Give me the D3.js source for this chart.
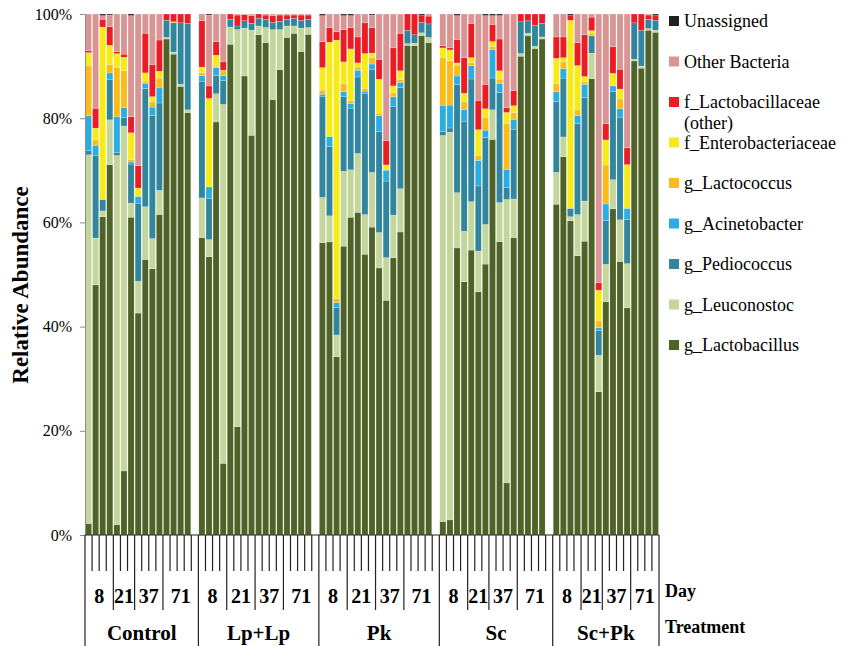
<!DOCTYPE html>
<html>
<head>
<meta charset="utf-8">
<script src="https://cdn.jsdelivr.net/npm/d3@7"></script>
<style>
  body { margin: 0; background: #fff; }
  svg { display: block; }
</style>
</head>
<body>
<script>
// categories
const treatments = ["Control", "Lp+Lp", "Pk", "Sc", "Sc+Pk"];
const days = ["8", "21", "37", "71"];
const barsPerDay = [[4, 3, 4, 4], [4, 4, 4, 4], [4, 4, 4, 4], [4, 3, 4, 4], [4, 3, 4, 4]];
const yTicks = [0, 0.2, 0.4, 0.6, 0.8, 1];

// series, bottom to top (percent)
const gLactobacillus = [
    2.2, 48.0, 61.1, 71.0, 2.0, 12.3, 61.0, 42.6, 52.9, 51.2, 61.6, 95.2, 92.3, 86.2, 81.1,
    57.1, 53.4, 79.2, 13.8, 94.2, 20.8, 88.1, 76.8, 96.0, 94.6, 83.5, 89.4, 95.5, 96.3, 92.9, 96.1,
    56.1, 56.2, 34.2, 55.5, 61.0, 62.0, 53.9, 59.1, 51.2, 45.1, 53.2, 58.1, 94.0, 93.9, 95.8, 94.5,
    2.6, 2.9, 55.1, 48.6, 54.8, 46.7, 52.0, 76.0, 56.3, 10.0, 57.1, 92.0, 95.8, 93.3, 95.2,
    63.5, 72.6, 60.3, 53.6, 56.4, 87.5, 27.5, 44.8, 62.6, 52.5, 43.6, 91.0, 89.7, 96.9, 96.5];
const gLeuconostoc = [
    70.7, 9.0, 1.1, 8.6, 70.7, 66.2, 2.7, 6.1, 10.1, 5.8, 4.6, 0.3, 0.4, 0.4, 0.5,
    7.6, 3.3, 5.4, 69.0, 3.3, 76.3, 9.2, 20.2, 1.7, 2.9, 13.4, 7.7, 2.2, 1.4, 4.5, 1.3,
    8.7, 5.0, 4.2, 14.4, 9.1, 11.3, 7.6, 10.5, 6.8, 8.2, 8.2, 8.3, 0.3, 0.5, 0.5, 1.0,
    74.0, 74.5, 10.6, 9.7, 9.3, 7.8, 7.6, 5.7, 7.5, 54.4, 7.4, 0.5, 0.5, 0.4, 0.4,
    6.1, 3.8, 0.8, 7.9, 7.7, 4.9, 7.0, 7.2, 5.6, 8.0, 8.5, 0.3, 0.4, 0.3, 0.4];
const gPediococcus = [
    0.8, 15.8, 2.2, 7.7, 0.6, 1.6, 7.5, 15.0, 22.7, 23.7, 16.8, 3.3, 5.6, 11.8, 16.6,
    22.4, 7.9, 3.5, 4.6, 1.5, 0.7, 1.4, 1.3, 1.5, 1.6, 1.4, 1.6, 1.3, 1.5, 1.5, 1.6,
    19.3, 13.3, 5.2, 14.3, 11.7, 14.7, 23.3, 19.7, 19.4, 14.7, 20.9, 19.4, 2.6, 1.6, 2.0, 2.6,
    0.8, 0.8, 20.8, 21.0, 23.6, 12.5, 16.7, 6.1, 21.1, 2.3, 13.4, 6.1, 2.4, 4.0, 2.6,
    13.6, 11.3, 1.6, 17.5, 19.9, 3.3, 4.8, 8.4, 16.9, 19.7, 8.5, 7.0, 6.9, 1.8, 1.9];
const gAcinetobacter = [
    6.7, 2.0, 0, 1.3, 6.8, 1.9, 0.4, 1.3, 1.0, 1.6, 2.9, 0, 0, 0, 0,
    1.1, 2.2, 1.5, 1.0, 0, 0, 0, 0, 0, 0, 0, 0, 0, 0, 0, 0,
    0.5, 1.9, 1.0, 1.0, 1.0, 1.3, 0.4, 1.1, 3.0, 2.1, 1.8, 1.0, 0, 0, 0, 0,
    5.0, 4.4, 1.6, 2.4, 2.6, 4.9, 1.4, 5.5, 1.8, 3.5, 1.9, 0, 0, 0, 0,
    1.9, 1.8, 0, 1.5, 2.5, 0, 0.5, 3.2, 1.1, 1.6, 2.1, 0, 0, 0, 0];
const gLactococcus = [
    9.6, 1.1, 0, 1.6, 9.4, 7.1, 0.5, 0, 0.4, 1.0, 1.9, 0, 0.2, 0, 0,
    0.6, 0, 0.3, 1.0, 0, 0, 0, 0, 0, 0, 0, 0, 0, 0, 0, 0,
    0.8, 0, 0.8, 1.5, 0.6, 0.6, 0.5, 1.3, 0.5, 0, 0.8, 0.5, 0, 0, 0, 0,
    9.2, 8.5, 2.1, 1.5, 0.5, 0.9, 2.4, 0.5, 0.8, 8.8, 1.3, 0, 0, 0, 0,
    1.5, 1.3, 0, 1.1, 0.5, 0.5, 1.3, 7.5, 0, 1.9, 0, 0, 0, 0, 0];
const fEnterobacteriaceae = [
    2.5, 2.2, 33.1, 3.7, 2.7, 2.6, 5.1, 1.6, 1.6, 1.0, 1.3, 0, 0, 0, 0,
    1.0, 17.0, 2.1, 0, 0, 0, 0, 0, 0, 0, 0, 0, 0, 0, 0, 0,
    4.3, 18.1, 49.6, 4.2, 9.9, 0.8, 6.7, 0.8, 6.5, 1.0, 1.3, 1.7, 0, 0, 0, 0,
    1.8, 2.1, 0.4, 1.6, 1.0, 5.0, 1.7, 1.0, 1.6, 2.1, 1.3, 0, 0, 0, 0,
    4.9, 0.8, 36.1, 8.5, 1.0, 0.5, 5.9, 4.8, 2.4, 1.9, 8.4, 0, 0, 0, 0];
const fLactobacillaceae = [
    0.4, 3.8, 1.5, 3.6, 0.4, 0.6, 3.1, 4.3, 7.6, 6.2, 6.0, 1.2, 1.5, 1.7, 1.8,
    8.9, 2.4, 2.6, 1.6, 1.0, 2.1, 1.2, 1.5, 0.8, 0.8, 1.3, 1.2, 0.8, 0.6, 1.0, 0.8,
    5.0, 2.8, 1.6, 6.2, 4.1, 5.0, 5.9, 4.9, 3.8, 4.7, 7.3, 7.2, 3.1, 4.0, 1.3, 1.5,
    0.4, 0.4, 4.5, 6.8, 6.6, 5.6, 4.7, 3.3, 6.1, 0.9, 2.9, 1.5, 1.3, 2.2, 1.8,
    4.1, 4.0, 0.9, 4.4, 8.0, 2.6, 1.4, 3.1, 5.1, 3.8, 3.2, 1.7, 3.1, 0.8, 0.9];
const otherBacteria = [
    7.0, 18.1, 0.7, 2.2, 7.2, 7.7, 19.4, 29.1, 3.7, 9.7, 5.0, 0, 0, 0, 0,
    1.3, 13.6, 5.3, 9.2, 0, 0.2, 0.1, 0.3, 0, 0.2, 0.3, 0.2, 0.2, 0.2, 0.2, 0.2,
    5.0, 2.6, 3.4, 2.7, 2.3, 4.4, 1.7, 2.4, 8.7, 24.3, 6.5, 3.7, 0, 0, 0, 0.4,
    6.1, 6.5, 4.6, 8.4, 1.8, 16.6, 13.2, 1.7, 4.5, 18.0, 14.7, 0, 0, 0, 0,
    4.4, 4.4, 0, 5.5, 4.0, 0.6, 51.6, 21.1, 6.3, 10.6, 25.7, 0, 0, 0.2, 0];
const unassigned = [
    0, 0, 0.3, 0.2, 0, 0, 0.3, 0, 0, 0, 0, 0, 0, 0, 0,
    0, 0.2, 0, 0, 0, 0, 0, 0, 0, 0, 0, 0, 0, 0, 0, 0,
    0.3, 0, 0, 0.3, 0.3, 0, 0, 0.2, 0, 0, 0, 0, 0, 0, 0.3, 0,
    0, 0, 0.3, 0, 0, 0, 0.3, 0.3, 0.3, 0, 0, 0, 0, 0, 0,
    0, 0, 0.3, 0, 0, 0, 0, 0, 0, 0, 0, 0, 0, 0, 0.3];

const seriesNames = ["g_Lactobacillus", "g_Leuconostoc", "g_Pediococcus", "g_Acinetobacter",
    "g_Lactococcus", "f_Enterobacteriaceae", "f_Lactobacillaceae (other)", "Other Bacteria", "Unassigned"];
const seriesValues = [gLactobacillus, gLeuconostoc, gPediococcus, gAcinetobacter,
    gLactococcus, fEnterobacteriaceae, fLactobacillaceae, otherBacteria, unassigned];
const colors = ["#4f6228", "#c3d69b", "#31859c", "#2badE2", "#fdbb1a", "#f7ea17", "#ec1c24", "#d99594", "#231f20"];

const font = "'Liberation Serif', 'Times New Roman', serif";

// slots: every bar, plus one empty slot closing each treatment but the last
function buildSlots() {
    let slots = [];
    let bar = 0;
    treatments.forEach((t, ti) => {
        days.forEach((d, di) => {
            for (let i = 0; i < barsPerDay[ti][di]; i++) {
                slots.push({ treatment: t, day: d, bar: bar++ });
            }
        });
        if (ti < treatments.length - 1) {
            slots.push({ treatment: t, day: "71", bar: null });
        }
    });
    return slots;
}

function drawChart() {
    let svg = d3.select("body").append("svg").attr("width", 844).attr("height", 646);
    let slots = buildSlots();

    let x = d3.scaleBand(d3.range(slots.length), [85, 659]).paddingInner(0.14).paddingOuter(0.07);
    let y = d3.scaleLinear([0, 1], [535, 14]);
    let step = x.step();
    let edge = i => 85 + i * step;

    let rows = slots.filter(s => s.bar !== null).map(s => {
        let row = { slot: slots.indexOf(s) };
        seriesNames.forEach((n, j) => row[n] = seriesValues[j][s.bar]);
        return row;
    });
    let stacked = d3.stack().keys(seriesNames).offset(d3.stackOffsetExpand)(rows);

    svg.append("g").selectAll("g").data(stacked).join("g")
        .attr("fill", (d, i) => colors[i])
        .selectAll("rect").data(d => d).join("rect")
        .attr("x", d => x(d.data.slot))
        .attr("width", x.bandwidth())
        .attr("y", d => y(d[1]))
        .attr("height", d => Math.max(0, y(d[0]) - y(d[1])))
        .attr("stroke", "#fff")
        .attr("stroke-width", 0.4)
        .attr("stroke-opacity", 0.5);

    // y axis
    let yAxis = svg.append("g")
        .attr("transform", "translate(85,0)")
        .call(d3.axisLeft(y).tickValues(yTicks).tickFormat(d3.format(".0%")).tickSize(5).tickPadding(8));
    yAxis.select(".domain").attr("stroke", "#8c8c8c");
    yAxis.selectAll(".tick line").attr("stroke", "#8c8c8c");
    yAxis.selectAll("text").style("font", `16px ${font}`).attr("fill", "#000");

    svg.append("text")
        .attr("transform", "translate(28,285) rotate(-90)")
        .attr("text-anchor", "middle")
        .style("font", `bold 23px ${font}`)
        .text("Relative Abundance");

    // x axis: sample ticks, day and treatment dividers
    let cat = svg.append("g").attr("stroke", "#222").attr("stroke-width", 1.2);
    cat.append("line").attr("x1", 85).attr("x2", 659).attr("y1", 535).attr("y2", 535);

    let dayStarts = [];
    let treatStarts = [];
    slots.forEach((s, i) => {
        let prev = slots[i - 1];
        if (!prev || prev.treatment !== s.treatment) treatStarts.push(i);
        else if (prev.day !== s.day) dayStarts.push(i);
    });
    treatStarts.push(slots.length);

    let bounds = d3.range(slots.length + 1).map(i => ({
        i, bottom: treatStarts.includes(i) ? 646 : dayStarts.includes(i) ? 610 : 571
    }));
    cat.selectAll("line.tick").data(bounds).join("line")
        .attr("class", "tick")
        .attr("x1", d => edge(d.i)).attr("x2", d => edge(d.i))
        .attr("y1", 535).attr("y2", d => d.bottom);

    // day labels
    let dayGroups = d3.groups(slots.map((s, i) => ({ ...s, i })), s => s.treatment + "|" + s.day);
    svg.append("g").selectAll("text").data(dayGroups).join("text")
        .attr("x", d => (edge(d[1][0].i) + edge(d[1][d[1].length - 1].i + 1)) / 2)
        .attr("y", 603)
        .attr("text-anchor", "middle")
        .style("font", `bold 20px ${font}`)
        .text(d => d[1][0].day);

    // treatment labels
    svg.append("g").selectAll("text").data(treatments).join("text")
        .attr("x", (d, i) => (edge(treatStarts[i]) + edge(treatStarts[i + 1])) / 2)
        .attr("y", 640)
        .attr("text-anchor", "middle")
        .style("font", `bold 21px ${font}`)
        .text(d => d);

    svg.append("text").attr("x", 665).attr("y", 597)
        .style("font", `bold 18px ${font}`).text("Day");
    svg.append("text").attr("x", 665).attr("y", 633)
        .style("font", `bold 18px ${font}`).text("Treatment");

    // legend, top entry first
    let legendItems = seriesNames.map((n, i) => ({ name: n, color: colors[i] })).reverse();
    let legend = svg.append("g").selectAll("g").data(legendItems).join("g")
        .attr("transform", (d, i) => `translate(669, ${21 + i * 40.5})`);
    legend.append("rect")
        .attr("y", -5).attr("width", 10).attr("height", 10)
        .attr("fill", d => d.color);
    legend.append("text")
        .attr("x", 15)
        .attr("y", 6)
        .style("font", `18px ${font}`)
        .each(function (d) {
            let parts = d.name === "f_Lactobacillaceae (other)" ? ["f_Lactobacillaceae", "(other)"] : [d.name];
            d3.select(this).selectAll("tspan").data(parts).join("tspan")
                .attr("x", 15)
                .attr("dy", (p, k) => k === 0 ? 0 : 21)
                .text(p => p);
        });
}

drawChart();
</script>
</body>
</html>
